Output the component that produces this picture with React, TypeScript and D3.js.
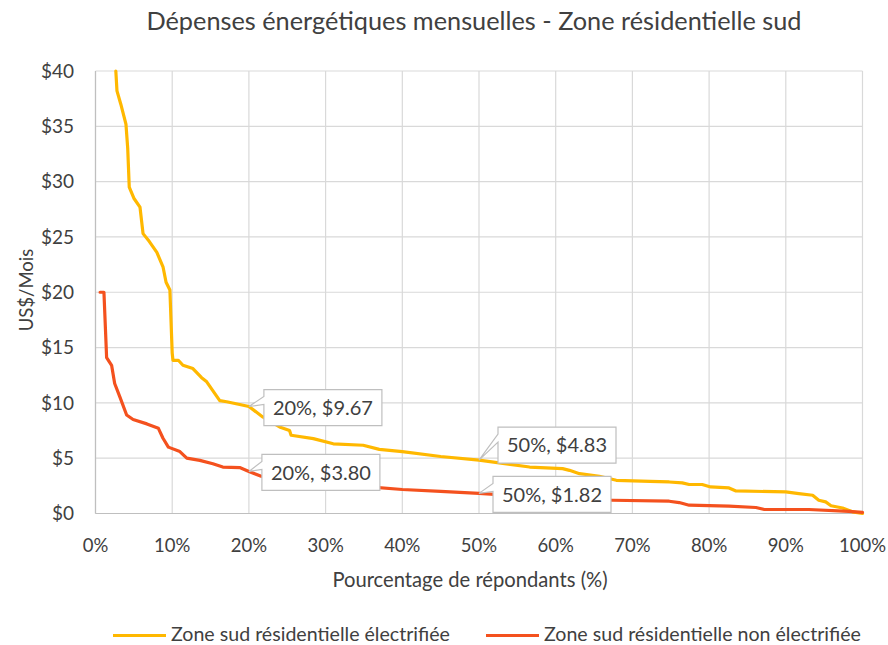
import * as d3 from 'd3';

// pourcentage de répondants (%) et dépense mensuelle (US$)
const elecPct = [2.65, 2.8, 3.3, 3.97, 4.2, 4.4, 5.0, 5.8, 6.2, 7.0, 8.0, 8.8, 9.2, 9.7, 10.0, 10.1, 10.8, 11.4, 12.7, 13.8, 14.5, 16.2, 17.1, 18.8, 20, 21.8, 24, 25.3, 25.5, 28.4, 31, 34.9, 37, 40, 45, 50, 56.6, 60.9, 61.8, 63.1, 65.7, 67.9, 72.3, 74.8, 76.5, 77.4, 79.1, 80.2, 82.6, 83.5, 90, 91.7, 93.5, 94.3, 95.2, 95.9, 97.4, 98.7, 100];
const elecVal = [40, 38.2, 37, 35.2, 33, 29.5, 28.5, 27.7, 25.3, 24.6, 23.6, 22.3, 20.9, 20.2, 14.5, 13.85, 13.85, 13.4, 13.1, 12.3, 11.9, 10.2, 10.1, 9.85, 9.67, 8.73, 7.83, 7.5, 7.07, 6.77, 6.3, 6.17, 5.8, 5.6, 5.15, 4.83, 4.2, 4.06, 3.9, 3.6, 3.37, 3.0, 2.9, 2.85, 2.77, 2.62, 2.62, 2.4, 2.31, 2.04, 1.95, 1.8, 1.65, 1.2, 1.05, 0.7, 0.5, 0.15, 0];

const nonElecPct = [0.6, 1.1, 1.45, 2.1, 2.5, 3.2, 4.06, 4.9, 6.7, 8.2, 8.8, 9.5, 11, 11.9, 13.6, 15.3, 16.6, 18.8, 20, 21.6, 25, 30, 35.7, 40, 45, 50, 55, 60, 67.4, 74.8, 76.1, 77.4, 82.6, 86.1, 87.2, 93, 98.2, 100];
const nonElecVal = [20, 20, 14.1, 13.4, 11.75, 10.5, 8.9, 8.5, 8.1, 7.7, 6.8, 6.0, 5.6, 5.0, 4.8, 4.5, 4.2, 4.15, 3.8, 3.37, 3.1, 2.75, 2.4, 2.17, 2.0, 1.82, 1.6, 1.4, 1.2, 1.11, 0.99, 0.75, 0.66, 0.54, 0.36, 0.36, 0.2, 0.1];

const seriesNames = ['Zone sud résidentielle électrifiée', 'Zone sud résidentielle non électrifiée'];
const seriesColors = ['#FFB800', '#F4511E'];

const xTicks = [0, 10, 20, 30, 40, 50, 60, 70, 80, 90, 100];
const yTicks = [0, 5, 10, 15, 20, 25, 30, 35, 40];

// étiquettes de données : x, y, décalage de la bulle
const labelPct = [20, 20, 50, 50];
const labelVal = [9.67, 3.8, 4.83, 1.82];
const labelDx = [15, 13, 19, 14];
const labelDy = [-17, -17, -33, -17];

const W = 888;
const H = 645;
const font = 'Lato, sans-serif';
const textColor = '#404040';

export default function App() {
  const left = 95.5;
  const right = 862.5;
  const top = 71;
  const bottom = 513.5;

  const x = d3.scaleLinear().domain([0, 100]).range([left, right]);
  const y = d3.scaleLinear().domain([0, 40]).range([bottom, top]);

  const line = d3
    .line<[number, number]>()
    .x((d) => x(d[0]))
    .y((d) => y(d[1]));

  const series = [
    d3.zip(elecPct, elecVal) as [number, number][],
    d3.zip(nonElecPct, nonElecVal) as [number, number][],
  ];

  const boxW = 118;
  const boxH = 36;
  const legendX = [113, 486];

  return (
    <svg width={W} height={H} style={{ display: 'block', position: 'absolute', left: 0, top: 0 }} fontFamily={font}>
      <rect width={W} height={H} fill="#fff" />
      <defs>
        <clipPath id="plot">
          <rect x={left} y={top - 2} width={right - left + 3} height={bottom - top + 4} />
        </clipPath>
      </defs>

      <text x={474} y={30} textAnchor="middle" fontSize={25.3} fill={textColor}>
        Dépenses énergétiques mensuelles - Zone résidentielle sud
      </text>

      {/* grille */}
      {yTicks.map((t) => (
        <line key={'gy' + t} x1={left} x2={right} y1={y(t)} y2={y(t)} stroke="#d9d9d9" strokeWidth={1.2} />
      ))}
      {xTicks.map((t) => (
        <line key={'gx' + t} x1={x(t)} x2={x(t)} y1={top} y2={bottom} stroke="#d9d9d9" strokeWidth={1.2} />
      ))}
      <line x1={left} x2={left} y1={top} y2={bottom} stroke="#bfbfbf" strokeWidth={1.2} />
      <line x1={left} x2={right} y1={bottom} y2={bottom} stroke="#bfbfbf" strokeWidth={1.2} />

      {yTicks.map((t) => (
        <text key={'ty' + t} x={74} y={y(t)} dy="0.36em" textAnchor="end" fontSize={19} fill={textColor}>
          {'$' + t}
        </text>
      ))}
      {xTicks.map((t) => (
        <text key={'tx' + t} x={x(t)} y={551.5} textAnchor="middle" fontSize={18.5} fill={textColor}>
          {t + '%'}
        </text>
      ))}

      <text x={470} y={587} textAnchor="middle" fontSize={20.2} fill={textColor}>
        Pourcentage de répondants (%)
      </text>
      <text transform={`translate(33,290) rotate(-90)`} textAnchor="middle" fontSize={18.5} fill={textColor}>
        US$/Mois
      </text>

      {/* courbes */}
      <g clipPath="url(#plot)">
        {series.map((s, i) => (
          <path key={i} d={line(s) ?? ''} fill="none" stroke={seriesColors[i]} strokeWidth={3.2} strokeLinejoin="round" strokeLinecap="round" />
        ))}
      </g>

      {/* étiquettes */}
      {labelPct.map((p, i) => {
        const tx = x(p);
        const ty = y(labelVal[i]);
        const bx = tx + labelDx[i];
        const by = ty + labelDy[i];
        const n1 = by + 7;
        const n2 = by + 15;
        const d = `M${bx},${by} H${bx + boxW} V${by + boxH} H${bx} V${n2} L${tx},${ty} L${bx},${n1} Z`;
        return (
          <g key={'lb' + i}>
            <path d={d} fill="#fff" stroke="#bfbfbf" strokeWidth={1.2} />
            <text x={bx + boxW / 2} y={by + boxH / 2} dy="0.36em" textAnchor="middle" fontSize={20} fill={textColor}>
              {`${p}%, $${labelVal[i].toFixed(2)}`}
            </text>
          </g>
        );
      })}

      {/* légende */}
      {seriesNames.map((name, i) => {
        const lx = legendX[i];
        return (
          <g key={'lg' + i}>
            <line x1={lx} x2={lx + 53} y1={635.5} y2={635.5} stroke={seriesColors[i]} strokeWidth={3.2} />
            <text x={lx + 58} y={641} fontSize={19.6} fill={textColor}>
              {name}
            </text>
          </g>
        );
      })}
    </svg>
  );
}
